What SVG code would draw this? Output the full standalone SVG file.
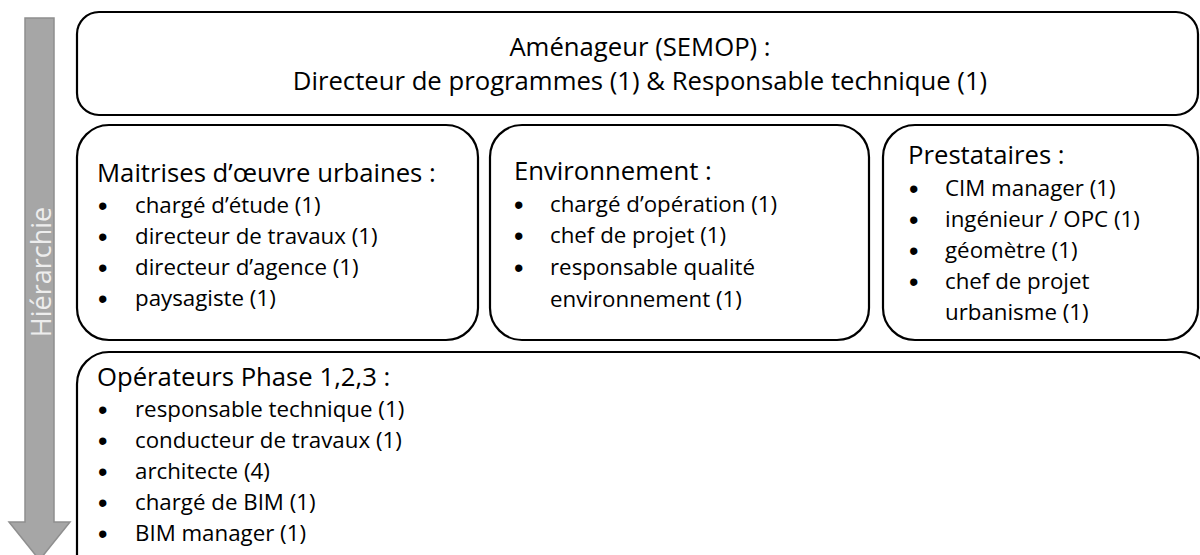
<svg xmlns="http://www.w3.org/2000/svg" width="1200" height="555" viewBox="0 0 1200 555">
<style>
.box{fill:#ffffff;stroke:#000000;stroke-width:2.2}
.t{font-family:"Open Sans","Liberation Sans",sans-serif;font-size:22.3px;fill:#000000}
.b{font-family:"Liberation Sans",sans-serif;font-size:27px;fill:#000000}
.h{font-family:"Open Sans","Liberation Sans",sans-serif;font-size:25.7px;fill:#000000}
.c{text-anchor:middle}
</style>
<rect width="1200" height="555" fill="#ffffff"/>
<g id="arrow">
<path d="M25,18 H54 V522 H70 L39.5,560 L9,522 H25 Z" fill="#a6a6a6" stroke="#8f8f8f" stroke-width="1.5"/>
<text x="0" y="0" transform="translate(51,272) rotate(-90)" text-anchor="middle" font-family="Open Sans, Liberation Sans, sans-serif" font-size="27" fill="#ededed">Hiérarchie</text>
</g>
<g id="amenageur">
<rect class="box" x="77" y="12" width="1121" height="103" rx="22"/>
<text class="h c" x="640" y="56">Aménageur (SEMOP) :</text>
<text class="h c" x="640" y="90">Directeur de programmes (1) &amp; Responsable technique (1)</text>
</g>
<g id="maitrises">
<rect class="box" x="77" y="125" width="401" height="215" rx="32"/>
<text class="h" x="97" y="182">Maitrises d’œuvre urbaines :</text>
<text class="b" x="98" y="215">•</text><text class="t" x="135" y="213">chargé d’étude (1)</text>
<text class="b" x="98" y="246">•</text><text class="t" x="135" y="244">directeur de travaux (1)</text>
<text class="b" x="98" y="277">•</text><text class="t" x="135" y="275">directeur d’agence (1)</text>
<text class="b" x="98" y="308">•</text><text class="t" x="135" y="306">paysagiste (1)</text>
</g>
<g id="environnement">
<rect class="box" x="490" y="125" width="379" height="215" rx="32"/>
<text class="h" x="514" y="180">Environnement :</text>
<text class="b" x="514" y="214">•</text><text class="t" x="550" y="212">chargé d’opération (1)</text>
<text class="b" x="514" y="245">•</text><text class="t" x="550" y="243">chef de projet (1)</text>
<text class="b" x="514" y="277">•</text><text class="t" x="550" y="275">responsable qualité</text>
<text class="t" x="550" y="307">environnement (1)</text>
</g>
<g id="prestataires">
<rect class="box" x="883" y="125" width="315" height="215" rx="32"/>
<text class="h" x="908" y="164">Prestataires :</text>
<text class="b" x="909" y="198">•</text><text class="t" x="945" y="196">CIM manager (1)</text>
<text class="b" x="909" y="229">•</text><text class="t" x="945" y="227">ingénieur / OPC (1)</text>
<text class="b" x="909" y="260">•</text><text class="t" x="945" y="258">géomètre (1)</text>
<text class="b" x="909" y="291">•</text><text class="t" x="945" y="289">chef de projet</text>
<text class="t" x="945" y="320">urbanisme (1)</text>
</g>
<g id="operateurs">
<rect class="box" x="77" y="352" width="1136" height="240" rx="32"/>
<text class="h" x="97" y="386">Opérateurs Phase 1,2,3 :</text>
<text class="b" x="98" y="419">•</text><text class="t" x="135" y="417">responsable technique (1)</text>
<text class="b" x="98" y="450">•</text><text class="t" x="135" y="448">conducteur de travaux (1)</text>
<text class="b" x="98" y="481">•</text><text class="t" x="135" y="479">architecte (4)</text>
<text class="b" x="98" y="512">•</text><text class="t" x="135" y="510">chargé de BIM (1)</text>
<text class="b" x="98" y="543">•</text><text class="t" x="135" y="541">BIM manager (1)</text>
</g>
<g id="connectors"></g>
</svg>
